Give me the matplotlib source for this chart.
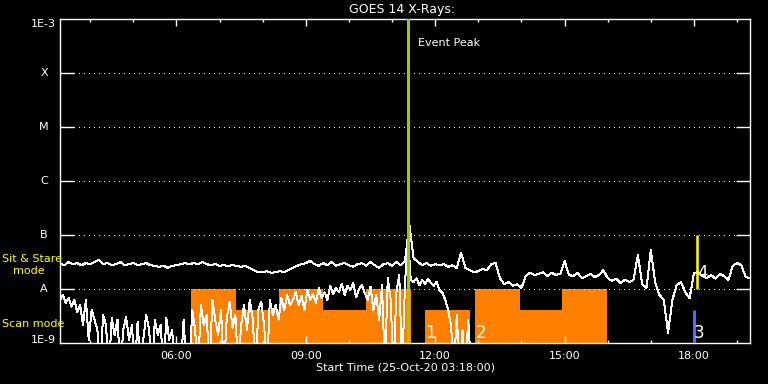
import numpy as np
import matplotlib
matplotlib.use("Agg")
import matplotlib.pyplot as plt
from matplotlib.transforms import blended_transform_factory
from matplotlib.ticker import FixedLocator, NullLocator

# ---------------- data ----------------
t_start = 3.3          # 03:18 UT, 25-Oct-2020 (hours)
t_end = 19.3
long_step = 0.1        # h  (1-8 A channel sampling)
short_step = 1 / 15.0  # h  (0.5-4 A channel sampling)

# log10 flux (W/m^2), 1-8 A channel
long_log = [
    -7.52, -7.56, -7.50, -7.54, -7.52, -7.56, -7.52, -7.54, -7.50,
    -7.46,
    -7.54, -7.52, -7.56, -7.54, -7.50, -7.56, -7.54, -7.52, -7.56, -7.54, -7.52,
    -7.56, -7.57, -7.59, -7.57, -7.61, -7.57, -7.56, -7.54, -7.52, -7.54,
    -7.52, -7.54, -7.50, -7.54, -7.56, -7.54, -7.57, -7.56, -7.57, -7.56,
    -7.57, -7.59, -7.57, -7.61, -7.65, -7.69,
    -7.69, -7.67, -7.70, -7.69, -7.67, -7.69, -7.65,
    -7.61, -7.57, -7.54, -7.52, -7.48,
    -7.54, -7.57, -7.52, -7.56, -7.50, -7.57, -7.54, -7.52, -7.56, -7.59, -7.54,
    -7.52, -7.57, -7.50, -7.56, -7.61, -7.54, -7.52, -7.57, -7.50, -7.56, -7.48,
    -6.80,
    -7.43, -7.50, -7.56, -7.52, -7.57, -7.54, -7.56,
    -7.54, -7.59, -7.56, -7.61,
    -7.33,
    -7.61, -7.65, -7.69, -7.67, -7.63, -7.65, -7.54,
    -7.52,
    -7.80, -7.91, -7.87, -7.94, -7.91, -7.98,
    -7.76, -7.70, -7.74, -7.72, -7.69, -7.76, -7.70, -7.74, -7.72,
    -7.48,
    -7.74, -7.76, -7.70, -7.80, -7.76, -7.72, -7.78, -7.74, -7.65,
    -7.80, -7.85, -7.81, -7.89, -7.83, -7.87, -7.83,
    -7.37,
    -7.91, -7.98,
    -7.28,
    -7.87, -8.11, -8.20,
    -8.81,
    -8.20, -7.93, -7.87,
    -8.06, -8.17,
    -7.70,
    -7.69, -7.76, -7.80, -7.74, -7.81, -7.72, -7.76, -7.83,
    -7.57, -7.52, -7.56,
    -7.78, -7.80,
]

# log10 flux (W/m^2), 0.5-4 A channel (-9.5 = below plot floor)
short_log = [
    -8.20, -8.11, -8.26, -8.17, -8.33, -8.20, -8.43,
    -8.30, -8.67, -8.20, -8.94, -8.39, -8.57,
    -8.76, -9.5, -8.48, -8.67, -9.5, -8.54,
    -8.85, -8.57, -9.5, -8.76, -8.52, -8.94, -8.67, -9.5,
    -8.61, -9.5, -8.91, -8.48, -8.76, -9.5, -8.57, -8.85,
    -8.67, -9.5, -8.54, -8.94, -8.76, -9.5,
    -9.5, -9.5, -8.57, -9.5, -9.5,
    -8.39, -8.76, -9.5, -8.30, -8.67, -8.48, -9.5, -8.20, -8.57, -8.85, -8.39, -9.5, -8.54, -8.24, -8.72,
    -8.48, -9.5, -8.67, -8.30, -8.76, -8.20, -8.54, -9.5, -8.39, -8.24,
    -8.67, -9.5, -8.20, -8.48, -8.30, -8.57, -8.17, -8.39, -8.11, -8.30,
    -8.20, -8.06, -8.30, -8.13, -8.39, -8.02, -8.20, -8.09, -8.26, -7.98, -8.17, -8.06, -8.20, -7.94, -8.09,
    -7.98, -8.06, -7.91, -8.11, -7.94, -8.02, -7.89, -8.15, -8.00, -7.93, -8.07, -8.20, -7.96, -8.39, -8.11,
    -8.57, -7.93, -9.5, -7.80, -8.20, -9.5, -8.06, -7.74, -9.5, -7.91, -7.02, -7.83,
    -7.87, -7.80, -7.93, -7.83, -7.91, -7.81, -7.89, -7.94, -7.87,
    -8.02, -8.07, -8.20, -8.39,
    -8.67, -9.5, -8.48, -9.5, -8.76, -9.5, -8.57, -9.5, -9.5,
]

# observing-mode blocks
obs_start = [6.33, 7.37, 8.38, 9.39, 10.40, 11.76, 12.92, 13.97, 14.94]
obs_end = [7.37, 8.38, 9.39, 10.40, 11.43, 12.81, 13.97, 14.94, 15.98]
obs_mode = ["stare", "scan", "stare", "scan", "stare", "scan", "stare", "scan", "stare"]
mode_top = {"stare": 1.0e-8, "scan": 4.1e-9}

event_peak = 11.38
event_text = "Event Peak"

# numbered events
event_ids = ["1", "2", "3", "4"]
event_times = [11.77, 12.93, 18.00, 18.07]
event_label_flux = [1.55e-9, 1.55e-9, 1.55e-9, 2.0e-8]
blue_bar = (18.00, 1.0e-9, 4.1e-9)
yellow_bar = (18.07, 1.0e-8, 1.0e-7)

# axis labels
class_levels = [1e-3, 1e-4, 1e-5, 1e-6, 1e-7, 1e-8, 1e-9]
class_names = ["1E-3", "X", "M", "C", "B", "A", "1E-9"]
xmajor = [6, 9, 12, 15, 18]
xmajor_labels = ["06:00", "09:00", "12:00", "15:00", "18:00"]
xminor = list(range(4, 20))

title = "GOES 14 X-Rays:"
xlabel = "Start Time (25-Oct-20 03:18:00)"

# ---------------- plot ----------------
W, H = 768, 384
fig = plt.figure(figsize=(W / 100, H / 100), dpi=100, facecolor="black")
ax = fig.add_axes([60 / W, 41 / H, 690 / W, 324 / H])
ax.set_facecolor("black")
ax.set_yscale("log")
ax.set_xlim(t_start, t_end)
ax.set_ylim(1e-9, 1e-3)

for sp in ax.spines.values():
    sp.set_color("white")
    sp.set_linewidth(1.0)

# mode blocks
for s, e, m in zip(obs_start, obs_end, obs_mode):
    ax.fill_between([s, e], 1e-9, mode_top[m], color="#FF8000", lw=0, zorder=1)

# grid at class levels
for lvl in class_levels[1:-1]:
    ax.axhline(lvl, xmin=14 / 690, xmax=1 - 14 / 690, color="white",
               lw=0.72, ls=(0, (1.0, 5.0)), antialiased=False, zorder=2)

# curves
t_long = t_start + np.arange(len(long_log)) * long_step
t_short = t_start + np.arange(len(short_log)) * short_step
ax.plot(t_long, 10 ** np.array(long_log), color="white", lw=0.72,
        antialiased=False, zorder=3)
ax.plot(t_short, 10 ** np.array(short_log), color="white", lw=0.72,
        antialiased=False, zorder=3)

# event peak
ax.axvline(event_peak, color="#99CC00", lw=2.2, zorder=4)
ax.annotate(event_text, xy=(event_peak, 1.0), xycoords=("data", "axes fraction"),
            xytext=(7, -17.5), textcoords="offset points", color="white",
            fontsize=8, ha="left", va="center")

# bars
ax.vlines(blue_bar[0], blue_bar[1], blue_bar[2], color="#6060FF", lw=2.2, zorder=4)
ax.vlines(yellow_bar[0], yellow_bar[1], yellow_bar[2], color="#FFFF00", lw=1.8, zorder=4)

for lab, t, f in zip(event_ids, event_times, event_label_flux):
    ax.text(t, f, lab, color="white", fontsize=12, ha="left", va="center",
            zorder=5)

# ticks
ax.yaxis.set_major_locator(FixedLocator(class_levels[1:-1]))
ax.yaxis.set_minor_locator(NullLocator())
ax.tick_params(axis="y", which="major", direction="in", length=10, width=1,
               color="white", left=True, right=True, labelleft=False)
ax.xaxis.set_major_locator(FixedLocator(xmajor))
ax.xaxis.set_minor_locator(FixedLocator(xminor))
ax.set_xticklabels(xmajor_labels)
ax.tick_params(axis="x", which="major", direction="in", length=5, width=1,
               color="white", top=True, bottom=True, labelcolor="white",
               labelsize=8, pad=6)
ax.tick_params(axis="x", which="minor", direction="in", length=2.2, width=1,
               color="white", top=True, bottom=True)

# y class labels
tr = blended_transform_factory(ax.transAxes, ax.transData)
for lvl, name in zip(class_levels, class_names):
    if name.startswith("1E"):
        va = "top" if lvl == 1e-3 else "baseline"
        ax.text(-4 / 690, lvl, name, transform=tr, color="white", fontsize=8,
                ha="right", va=va)
    else:
        ax.text(-16 / 690, lvl, name, transform=tr, color="white", fontsize=8,
                ha="center", va="center")

# side labels
fig.text(2 / W, 1 - 259 / H, "Sit & Stare", color="#FFFF00", fontsize=8,
         ha="left", va="center")
fig.text(13 / W, 1 - 271 / H, "mode", color="#FFFF00", fontsize=8,
         ha="left", va="center")
fig.text(2 / W, 1 - 324 / H, "Scan mode", color="#FFFF00", fontsize=8,
         ha="left", va="center")

fig.text(402 / W, 1 - 10 / H, title, color="white", fontsize=9,
         ha="center", va="center")
fig.text(405 / W, 1 - 368 / H, xlabel, color="white", fontsize=8,
         ha="center", va="center")

fig.savefig("out.png", dpi=100, facecolor="black")
